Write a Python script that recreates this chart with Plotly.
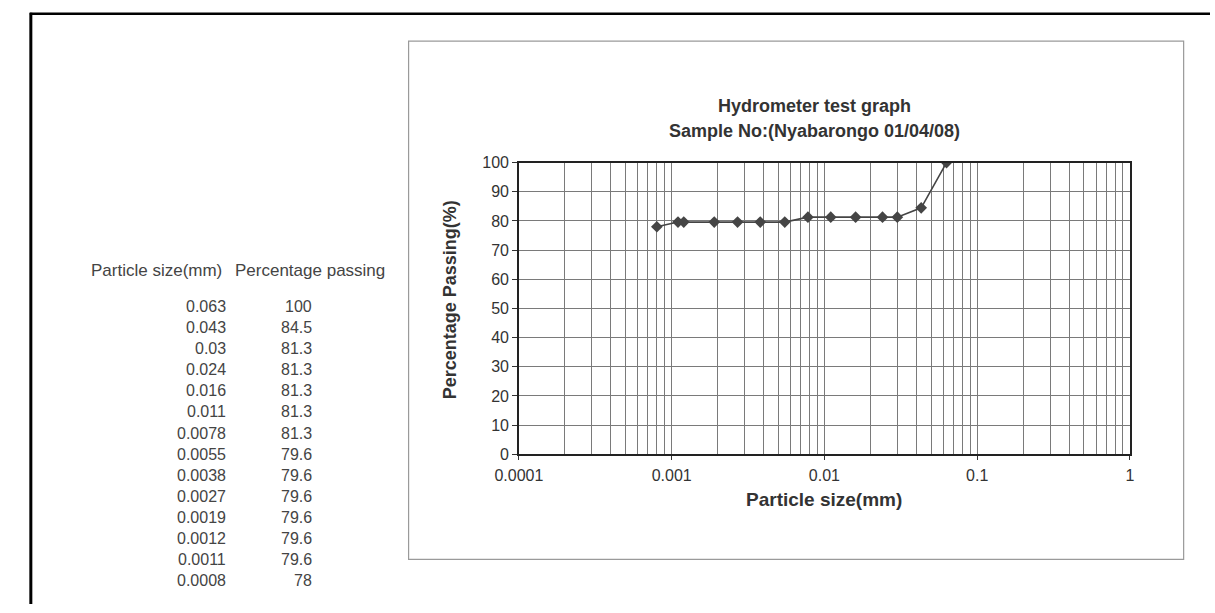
import plotly.graph_objects as go

# Hydrometer test results: particle size (mm) vs percentage passing
particle_size = [0.063, 0.043, 0.03, 0.024, 0.016, 0.011, 0.0078,
                 0.0055, 0.0038, 0.0027, 0.0019, 0.0012, 0.0011, 0.0008]
size_labels = ["0.063", "0.043", "0.03", "0.024", "0.016", "0.011", "0.0078",
               "0.0055", "0.0038", "0.0027", "0.0019", "0.0012", "0.0011", "0.0008"]
percent_passing = [100, 84.5, 81.3, 81.3, 81.3, 81.3, 81.3,
                   79.6, 79.6, 79.6, 79.6, 79.6, 79.6, 78]
passing_labels = ["100", "84.5", "81.3", "81.3", "81.3", "81.3", "81.3",
                  "79.6", "79.6", "79.6", "79.6", "79.6", "79.6", "78"]

x_major = [0.0001, 0.001, 0.01, 0.1, 1]
x_major_text = ["0.0001", "0.001", "0.01", "0.1", "1"]
x_minor = [m * d for d in [0.0001, 0.001, 0.01, 0.1] for m in range(2, 10)]

W, H = 1215, 613


def px(x):
    return x / W


def py(y):
    return 1 - y / H


FONT = "Liberation Sans, Arial, sans-serif"
GRID = "#7a7a7a"
TEXT = "#333333"
TABLE = "#444444"

fig = go.Figure()
fig.add_trace(go.Scatter(
    x=particle_size, y=percent_passing, mode="lines+markers",
    line=dict(color="#454545", width=1.6),
    marker=dict(symbol="diamond", size=9, color="#454545"),
    showlegend=False, hoverinfo="x+y",
))

fig.update_layout(
    width=W, height=H,
    margin=dict(l=0, r=0, t=0, b=0),
    paper_bgcolor="white", plot_bgcolor="white",
    font=dict(family=FONT, color=TEXT),
    xaxis=dict(
        type="log", range=[-4, 0], domain=[px(507), px(1133)],
        tickmode="array", tickvals=x_major, ticktext=x_major_text,
        tickfont=dict(size=16, color=TEXT), ticklabelstandoff=2,
        ticks="outside", ticklen=4, tickcolor="#333333",
        showgrid=True, gridcolor=GRID, gridwidth=1,
        minor=dict(tickmode="array", tickvals=x_minor, showgrid=True,
                   gridcolor=GRID, gridwidth=1, ticks=""),
        showline=True, linecolor="#222222", linewidth=1.5, mirror=True,
        zeroline=False, fixedrange=True,
    ),
    yaxis=dict(
        range=[0, 100], domain=[py(459), py(159)],
        tickmode="linear", tick0=0, dtick=10,
        tickfont=dict(size=16, color=TEXT),
        ticks="outside", ticklen=5, tickcolor="#333333",
        showgrid=True, gridcolor=GRID, gridwidth=1,
        showline=True, linecolor="#222222", linewidth=1.5, mirror=True,
        zeroline=False, fixedrange=True,
    ),
)

annotations = [
    dict(text="<b>Hydrometer test graph</b>", x=px(810), y=py(101),
         font=dict(size=18, color=TEXT)),
    dict(text="<b>Sample No:(Nyabarongo 01/04/08)</b>", x=px(810), y=py(126),
         font=dict(size=18, color=TEXT)),
    dict(text="<b>Particle size(mm)</b>", x=px(820), y=py(506),
         font=dict(size=19, color=TEXT)),
    dict(text="<b>Percentage Passing(%)</b>", x=px(436), y=py(300),
         textangle=-90, font=dict(size=18, color=TEXT)),
    dict(text="Particle size(mm)", x=px(67), y=py(270), xanchor="left",
         font=dict(size=17, color=TABLE)),
    dict(text="Percentage passing", x=px(372), y=py(270), xanchor="right",
         font=dict(size=17, color=TABLE)),
]
row_y0, row_step = 307, 21.7
for i, (s, p) in enumerate(zip(size_labels, passing_labels)):
    yy = py(row_y0 + i * row_step)
    annotations.append(dict(text=s, x=px(209), y=yy, xanchor="right",
                            font=dict(size=16, color=TABLE)))
    annotations.append(dict(text=p, x=px(297), y=yy, xanchor="right",
                            font=dict(size=16, color=TABLE)))

for a in annotations:
    a.setdefault("xanchor", "center")
    a.update(xref="paper", yref="paper", yanchor="middle", showarrow=False)
fig.update_layout(annotations=annotations)

shapes = [
    # chart frame
    dict(type="rect", xref="paper", yref="paper",
         x0=px(394), x1=px(1188), y0=py(567), y1=py(34),
         line=dict(color="#9a9a9a", width=1.2)),
    # page edges
    dict(type="line", xref="paper", yref="paper",
         x0=px(7), x1=px(7), y0=py(5), y1=0,
         line=dict(color="black", width=3)),
    dict(type="line", xref="paper", yref="paper",
         x0=px(6), x1=1, y0=py(6), y1=py(6),
         line=dict(color="black", width=2.5)),
]
fig.update_layout(shapes=shapes)

fig.write_html("out.html", config={"displayModeBar": False})
